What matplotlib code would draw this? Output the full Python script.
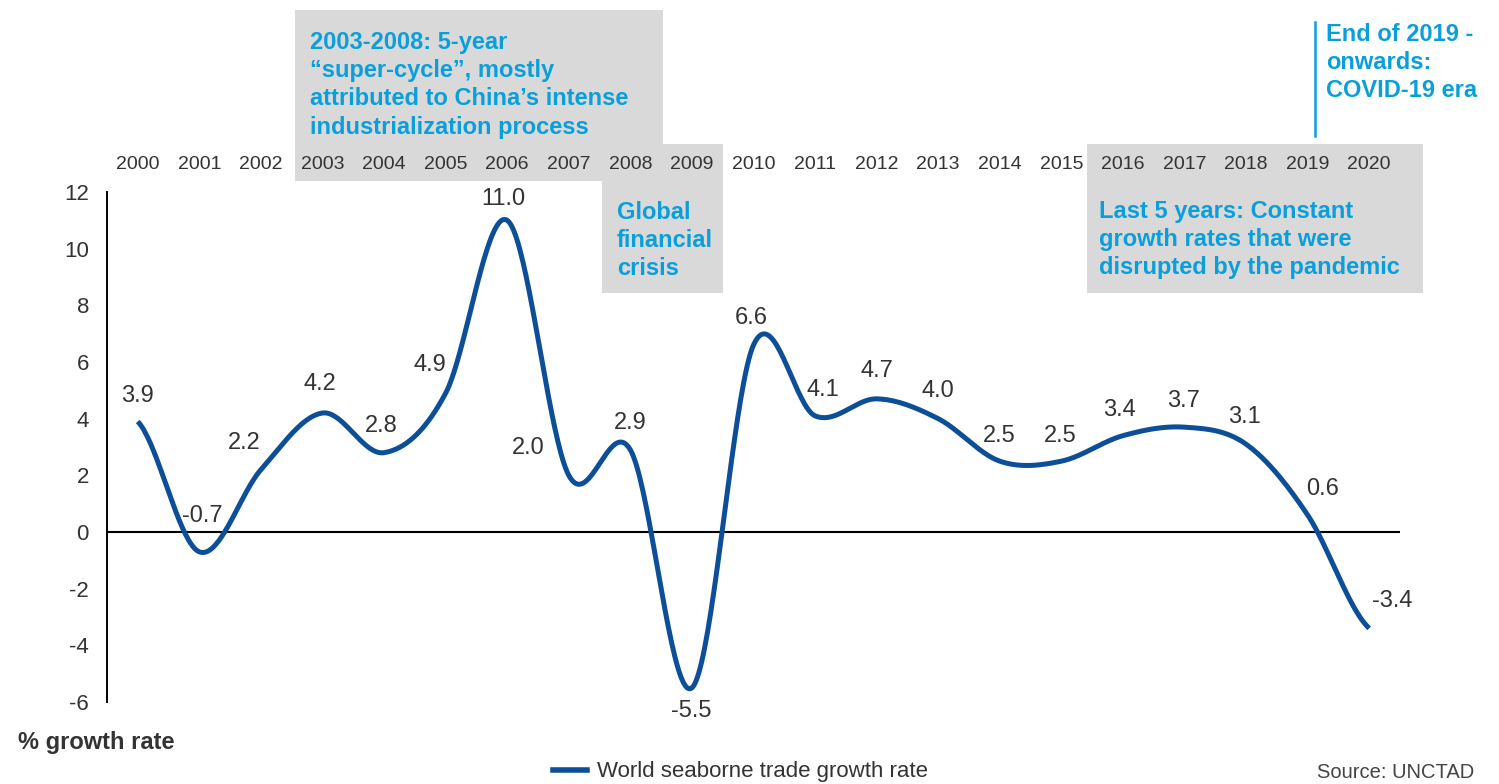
import numpy as np
import matplotlib
matplotlib.use("Agg")
import matplotlib.pyplot as plt
from matplotlib.patches import Rectangle
from matplotlib.lines import Line2D
from matplotlib import font_manager

# ---------------- data ----------------
years = list(range(2000, 2021))
growth = [3.9, -0.7, 2.2, 4.2, 2.8, 4.9, 11.0, 2.0, 2.9, -5.5, 6.6,
          4.1, 4.7, 4.0, 2.5, 2.5, 3.4, 3.7, 3.1, 0.6, -3.4]
y_ticks = [-6, -4, -2, 0, 2, 4, 6, 8, 10, 12]
series_name = "World seaborne trade growth rate"
y_title = "% growth rate"
source = "Source: UNCTAD"
note_supercycle = "2003-2008: 5-year\n\u201csuper-cycle\u201d, mostly\nattributed to China\u2019s intense\nindustrialization process"
note_gfc = "Global\nfinancial\ncrisis"
note_last5 = "Last 5 years: Constant\ngrowth rates that were\ndisrupted by the pandemic"
note_covid = "End of 2019 -\nonwards:\nCOVID-19 era"

# label offsets in pixels (styling)
label_offsets = [(0, 25), (3, 36), (-17, 27), (-3, 29), (-3, 27), (-16, 28), (-4, 21),
                 (-41, 27), (0, 27), (-1, -23), (-2, 27), (8, 26), (0, 28), (0, 28),
                 (-1, 25), (-1, 25), (-3, 26), (-1, 26), (-2, 27), (15, 26), (23, 27)]

# ---------------- fonts ----------------
avail = {f.name for f in font_manager.fontManager.ttflist}
def pick(cands):
    for c in cands:
        if c in avail:
            return c
    return "DejaVu Sans"
FONT = pick(["Liberation Sans", "Arial", "Roboto", "DejaVu Sans"])
plt.rcParams["font.family"] = [FONT, "DejaVu Sans"]

W, H = 1499, 784
fig = plt.figure(figsize=(W / 100, H / 100), dpi=100)
fig.patch.set_facecolor("white")

def fx(px):
    return px / W
def fy(py):
    return 1 - py / H

LINE = "#0C4E98"
BLUE = "#0A9FDB"
GREY = "#D9D9D9"
TXT = "#333333"

# grey boxes (figure coords)
for (x0, y0, x1, y1) in [(295, 10, 663, 181), (602, 144, 723, 293), (1087, 144, 1423, 293)]:
    fig.add_artist(Rectangle((fx(x0), fy(y1)), fx(x1) - fx(x0), fy(y0) - fy(y1),
                             transform=fig.transFigure, facecolor=GREY, edgecolor="none", zorder=0))

ax = fig.add_axes([fx(107), fy(702), fx(1400) - fx(107), fy(192) - fy(702)], zorder=1)
ax.patch.set_alpha(0)

# smooth curve (Catmull-Rom through the data points)
xs = np.array(years, dtype=float)
ys = np.array(growth, dtype=float)
n = len(xs)
cx, cy = [], []
t = np.linspace(0, 1, 40)
for i in range(n - 1):
    p0 = ys[i - 1] if i > 0 else ys[i]
    p3 = ys[i + 2] if i + 2 < n else ys[i + 1]
    m1 = (ys[i + 1] - p0) / 2
    m2 = (p3 - ys[i]) / 2
    h00 = 2 * t**3 - 3 * t**2 + 1
    h10 = t**3 - 2 * t**2 + t
    h01 = -2 * t**3 + 3 * t**2
    h11 = t**3 - t**2
    cy.extend(h00 * ys[i] + h10 * m1 + h01 * ys[i + 1] + h11 * m2)
    cx.extend(xs[i] + t * (xs[i + 1] - xs[i]))
ax.plot(cx, cy, color=LINE, lw=3.6, solid_capstyle="butt", zorder=3, label=series_name)

ax.axhline(0, color="black", lw=1.5, zorder=2)
ax.set_xlim(1999.5, 2020.5)
ax.set_ylim(-6, 12)
for s in ["top", "right", "bottom"]:
    ax.spines[s].set_visible(False)
ax.spines["left"].set_linewidth(1.4)
ax.spines["left"].set_color("black")
ax.set_yticks(y_ticks)
ax.set_yticklabels([str(v) for v in y_ticks])
ax.tick_params(axis="y", length=0, pad=13, labelsize=16, labelcolor=TXT)
ax.xaxis.tick_top()
ax.set_xticks(years)
ax.set_xticklabels([str(y) for y in years])
ax.tick_params(axis="x", length=0, pad=14, labelsize=14, labelcolor=TXT)

for x, v, (dx, dy) in zip(years, growth, label_offsets):
    ax.annotate(f"{v:.1f}", (x, v), xytext=(dx, dy), textcoords="offset pixels",
                ha="center", va="center", fontsize=17, color=TXT, zorder=4)

# annotations
LS = 1.29
fig.text(fx(310), fy(31), note_supercycle, ha="left", va="top", fontsize=17,
         fontweight="bold", color=BLUE, linespacing=LS, zorder=3)
fig.text(fx(617), fy(201), note_gfc, ha="left", va="top", fontsize=17,
         fontweight="bold", color=BLUE, linespacing=LS, zorder=3)
fig.text(fx(1099), fy(200), note_last5, ha="left", va="top", fontsize=17,
         fontweight="bold", color=BLUE, linespacing=LS, zorder=3)
fig.text(fx(1326), fy(23), note_covid, ha="left", va="top", fontsize=17,
         fontweight="bold", color=BLUE, linespacing=LS, zorder=3)
fig.add_artist(Line2D([fx(1315), fx(1315)], [fy(22), fy(136)], transform=fig.transFigure,
                      color=BLUE, lw=1.8, zorder=3))

fig.text(fx(18), fy(742), y_title, ha="left", va="center", fontsize=17,
         fontweight="bold", color=TXT)
fig.text(fx(1474), fy(773), source, ha="right", va="center", fontsize=14.5, color="#444444")

leg = fig.legend(handles=[Line2D([], [], color=LINE, lw=4)], labels=[series_name],
                 loc="center left", bbox_to_anchor=(fx(553), fy(772)), frameon=False,
                 fontsize=16, handlelength=1.55, handletextpad=0.45, borderpad=0,
                 borderaxespad=0)
for t_ in leg.get_texts():
    t_.set_color(TXT)

fig.savefig("out.png", dpi=100)
